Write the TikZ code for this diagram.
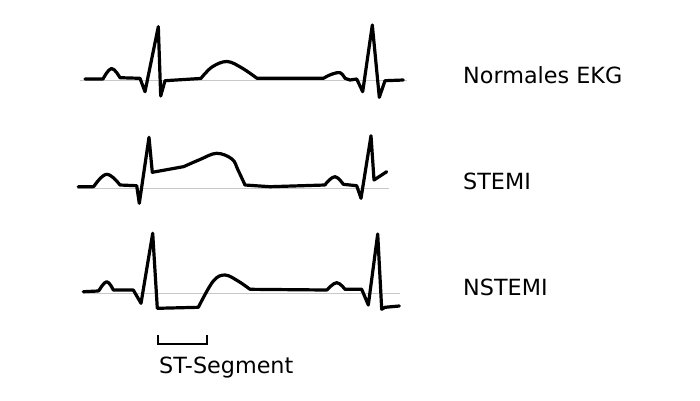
\documentclass[tikz,border=0pt]{standalone}
\usepackage{fontspec}
\setmainfont{DejaVu Sans}
\usepackage{tikz}
\usetikzlibrary{positioning}
\colorlet{tracecolor}{black}
\colorlet{basecolor}{black!22}

\begin{document}
\begin{tikzpicture}[x=1pt,y=-1pt,every node/.style={font=\fontsize{22.3}{26}\selectfont,inner sep=0pt},
    trace/.style={draw=tracecolor,line width=3.2pt,line join=round,line cap=round},
    baseline/.style={draw=basecolor,line width=1pt},
    label/.style={anchor=base west}]
  \useasboundingbox (0,0) rectangle (700,400);
  % normal
  \draw[baseline] (80,80) -- (407,80);
  \draw[trace] (85,79) -- (102,79) --plot[smooth,tension=.7] coordinates {(103,79) (111.5,68.5) (120,77.7)} -- (140,78.3)
    -- (145,91.7) -- (158.3,26.7) -- (160.7,96) -- (165,80.7) -- (200,78.5)
    --plot[smooth,tension=.6] coordinates {(201,78.3) (212,67) (227,61.5) (242,68) (257,78.3)}
    -- (323,78.3) --plot[smooth,tension=.6] coordinates {(324,78) (331,74.5) (340,72.7) (345,78.3)}
    -- (350,80) -- (356.7,79) -- (362.7,91.7) -- (372.3,25) -- (379.3,97.3) -- (385,80.7) -- (403.3,80);
  \node[label] (normal) at (463,83.5) {Normales EKG};
  % STEMI
  \draw[baseline] (77,188) -- (389,188);
  \draw[trace] (78.3,186.7) -- (93,186.7) --plot[smooth,tension=.7] coordinates {(94,186.2) (106.7,174.3) (120,185)} -- (136.7,185.7)
    -- (139.3,203.3) -- (149,137.3) -- (152.3,172.3) -- (183.3,166.7)
    --plot[smooth,tension=.6] coordinates {(184,166.5) (200,159.5) (216.7,153.3) (232,159) (238,170) (245,185)}
    -- (270,186.7) -- (325,185) --plot[smooth,tension=.7] coordinates {(326,183.5) (335,176.7) (343.3,184.3)}
    -- (356.7,185.7) -- (361,198.3) -- (371,135.7) -- (374,180) -- (386.7,171.7);
  \node[label] (stemi) at (463,189) {STEMI};
  % NSTEMI
  \draw[baseline] (83,293.5) -- (400,293.5);
  \draw[trace] (83.3,291.7) -- (98,291) --plot[smooth,tension=.7] coordinates {(99,290.5) (106.7,281.7) (113.3,290)} -- (133.3,290)
    -- (141,303.3) -- (152.7,233.3) -- (157.3,308.3) -- (198.3,307.3)
    --plot[smooth,tension=.6] coordinates {(199,306) (213.3,281) (225,275) (238,281) (250,289.3)}
    -- (326.7,290) --plot[smooth,tension=.7] coordinates {(327.5,289.5) (336.7,282.7) (345,289.3)}
    -- (361.7,289.3) -- (368.3,305) -- (377.7,234) -- (381.7,309.3) -- (385,307.3) -- (399.3,306);
  \node[label] (nstemi) at (463,295) {NSTEMI};
  % ST segment marker
  \draw[line width=1.8pt] (158.3,335) -- (158.3,344) -- (206.7,344) -- (206.7,335);
  \node[label] (stseg) at (159,373.3) {ST-Segment};
\end{tikzpicture}
\end{document}
